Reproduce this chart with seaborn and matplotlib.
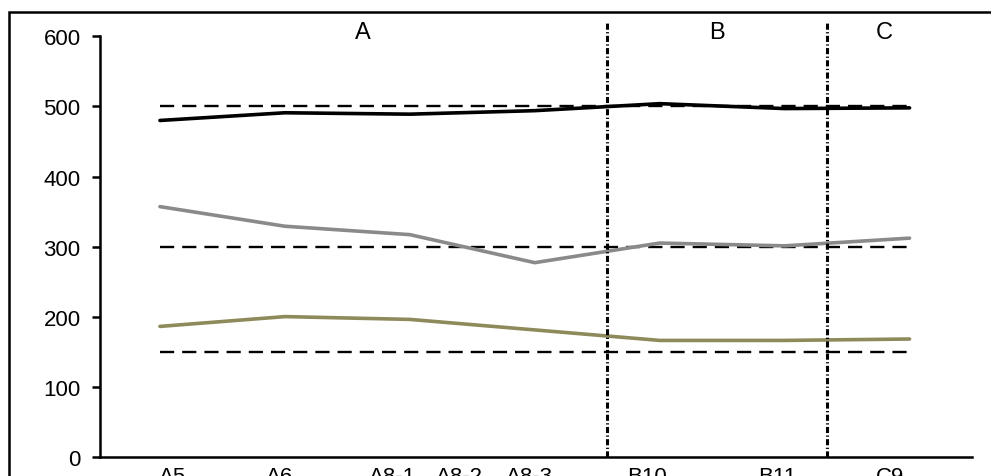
import matplotlib
matplotlib.use("Agg")
import matplotlib.pyplot as plt
import pandas as pd
import seaborn as sns
from matplotlib.patches import Rectangle

# sample labels on the x axis
sample_labels = ["A5", "A6", "A8-1", "A8-2", "A8-3", "B10", "B11", "C9"]
# measured points along each series (7 points)
black_vals = [480, 491, 489, 494, 504, 497, 498]
gray_vals = [357, 329, 317, 277, 305, 301, 312]
olive_vals = [186, 200, 196, 181, 166, 166, 168]
# reference (dashed) levels
ref_levels = [500, 300, 150]
group_names = ["A", "B", "C"]
y_ticks = [0, 100, 200, 300, 400, 500, 600]

# layout: where the text labels and dividers sit along the x axis
label_pos = [0.10, 0.96, 1.86, 2.40, 2.96, 3.90, 4.94, 5.84]
divider_pos = [3.58, 5.34]
group_pos = [1.62, 4.46, 5.80]

sns.set_theme(style="white")
plt.rcParams["font.family"] = ["Liberation Sans", "DejaVu Sans"]
plt.rcParams["text.color"] = "black"
plt.rcParams["xtick.color"] = "black"
plt.rcParams["ytick.color"] = "black"

n = len(black_vals)
df = pd.DataFrame({
    "x": list(range(n)) * 3,
    "value": black_vals + gray_vals + olive_vals,
    "series": ["black"] * n + ["gray"] * n + ["olive"] * n,
})

fig = plt.figure(figsize=(9.91, 4.77), dpi=100)
ax = fig.add_axes([100 / 991, 1 - 457.7 / 477, 872 / 991, 435.7 / 477])

sns.lineplot(
    data=df, x="x", y="value", hue="series",
    palette={"black": "#000000", "gray": "#8a8a8a", "olive": "#8e8a5c"},
    linewidth=2.6, legend=False, ax=ax, zorder=3,
)

for lvl in ref_levels:
    ax.plot([0, n - 1], [lvl, lvl], color="black", lw=1.7,
            linestyle=(0, (6, 3.4)), zorder=2)

for xv in divider_pos:
    ax.axvline(xv, color="black", lw=2.2, linestyle=(0, (2, 0.8, 0.4, 0.8)),
               zorder=4)

for name, xv in zip(group_names, group_pos):
    ax.text(xv, 607, name, ha="center", va="center", fontsize=17)

ax.set_xlim(-0.48, 6.5)
ax.set_ylim(0, 622)
ax.set_yticks(y_ticks)
ax.set_yticklabels([str(t) for t in y_ticks], fontsize=16)
ax.set_xticks(label_pos)
ax.set_xticklabels(sample_labels, fontsize=16)
ax.set_xlabel("")
ax.set_ylabel("")

for side in ["top", "right"]:
    ax.spines[side].set_visible(False)
ax.spines["left"].set_bounds(0, 600)
ax.spines["left"].set_linewidth(1.8)
ax.spines["bottom"].set_linewidth(1.8)
ax.spines["left"].set_color("black")
ax.spines["bottom"].set_color("black")
ax.tick_params(axis="y", which="major", left=True, length=6, width=1.8,
               color="black", pad=8)
ax.tick_params(axis="x", which="major", bottom=False, pad=1)

# outer frame around the whole graphic (runs off the right and bottom)
fig.add_artist(Rectangle((9 / 991, -0.2), 1.2, 0.2 + 1 - 12.5 / 477,
                         transform=fig.transFigure, fill=False,
                         edgecolor="black", lw=1.8))

fig.savefig("out.png", dpi=100)
